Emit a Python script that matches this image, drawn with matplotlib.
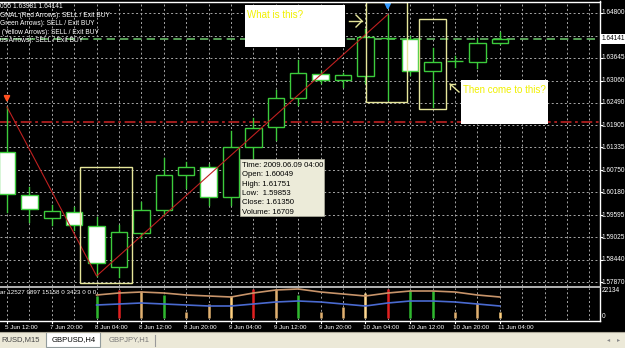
import matplotlib
matplotlib.use('Agg')
import matplotlib.pyplot as plt
from matplotlib.patches import Rectangle

# ---------------- data ----------------
bar_index = list(range(23))
opens  = [1.61219, 1.60111, 1.59519, 1.59673, 1.59313, 1.58256, 1.59132, 1.59725, 1.60626, 1.60832,
          1.60049, 1.61350, 1.61863, 1.62610, 1.63228, 1.63074, 1.63177, 1.64150, 1.64130, 1.63305,
          1.63563, 1.63537, 1.64027]
highs  = [1.62380, 1.60317, 1.59854, 1.59802, 1.59544, 1.59338, 1.59931, 1.61064, 1.60961, 1.60900,
          1.61751, 1.62095, 1.62816, 1.63589, 1.63300, 1.63250, 1.64400, 1.64760, 1.64200, 1.63900,
          1.63700, 1.64150, 1.64310]
lows   = [1.59673, 1.59416, 1.59338, 1.59210, 1.58025, 1.57999, 1.59003, 1.59596, 1.60291, 1.59854,
          1.59853, 1.61013, 1.61528, 1.62430, 1.63000, 1.62893, 1.63000, 1.62558, 1.63200, 1.62378,
          1.63400, 1.63383, 1.64000]
closes = [1.60137, 1.59750, 1.59699, 1.59338, 1.58359, 1.59158, 1.59725, 1.60626, 1.60832, 1.60049,
          1.61350, 1.61837, 1.62610, 1.63254, 1.63074, 1.63202, 1.64181, 1.64160, 1.63305, 1.63537,
          1.63570, 1.64027, 1.64141]

tick_bars = [0, 2, 4, 6, 8, 10, 12, 14, 16, 18, 20, 22]
tick_labels = ["5 Jun 12:00", "7 Jun 20:00", "8 Jun 04:00", "8 Jun 12:00", "8 Jun 20:00",
               "9 Jun 04:00", "9 Jun 12:00", "9 Jun 20:00", "10 Jun 04:00", "10 Jun 12:00",
               "10 Jun 20:00", "11 Jun 04:00"]
price_ticks = [1.57870, 1.58440, 1.59025, 1.59595, 1.60180, 1.60750, 1.61335, 1.61905,
               1.62490, 1.63060, 1.63645, 1.64215, 1.64800]
price_tick_labels = ["1.57870", "1.58440", "1.59025", "1.59595", "1.60180", "1.60750", "1.61335",
                     "1.61905", "1.62490", "1.63060", "1.63645", "", "1.64800"]
bid_price = 1.64141
red_level = 1.61990

zigzag_bars = [0, 4, 17]
zigzag_prices = [1.62380, 1.58025, 1.64760]

vol_bars = list(range(4, 23))
volumes = [16800, 21500, 20600, 17500, 4600, 10700, 16709, 22134, 21800, 17500,
           4600, 8400, 19000, 22000, 21300, 20600, 4600, 11400, 4600]
vol_colors = ['#2fb82f', '#e02020', '#e0b070', '#2fb82f', '#e0b070', '#e0b070', '#ffd080', '#e02020',
              '#e0b070', '#2fb82f', '#e0b070', '#e0b070', '#ffd890', '#e02020', '#2fb82f', '#2fb82f',
              '#e0b070', '#e0b070', '#ffd080']
vol_line_tan = [17550, 19075, 19840, 19075, 17550, 16790, 16020, 19075, 21360, 22130,
                19840, 18310, 16790, 19075, 20600, 20600, 19840, 17550, 16020]
vol_line_blue = [9920, 10680, 11450, 10680, 9920, 9160, 9160, 10680, 12210, 12970,
                 12210, 10680, 9160, 11450, 12970, 12970, 12210, 10680, 9160]
vol_max = 22134

header_lines = ["055 1.63981 1.64141",
                "GNAL (Red Arrows): SELL / Exit BUY",
                "Green Arrows): SELL / Exit BUY",
                " (Yellow Arrows): SELL / Exit BUY",
                "us Arrows): SELL / Exit BUY"]
tooltip_lines = ["Time: 2009.06.09 04:00", "Open: 1.60049", "High: 1.61751",
                 "Low:  1.59853", "Close: 1.61350", "Volume: 16709"]
vol_label = "ar 12527 9897 15158 0 3423 0 0 0"
tabs = ["RUSD,M15", "GBPUSD,H4", "GBPJPY,H1"]

# ---------------- layout ----------------
W, H = 625, 348
fig = plt.figure(figsize=(W / 100, H / 100), dpi=100)
fig.patch.set_facecolor('black')
plt.rcParams['font.family'] = ['Liberation Sans', 'DejaVu Sans']

def fx(x):
    return x / W

def fy(y):
    return 1 - y / H

def add_ax(x0, y0, x1, y1):
    ax = fig.add_axes([fx(x0), fy(y1), fx(x1) - fx(x0), fy(y0) - fy(y1)])
    ax.set_facecolor('black')
    for s in ax.spines.values():
        s.set_visible(False)
    ax.set_xticks([])
    ax.set_yticks([])
    return ax

bar_px = 22.4
x_lo = -7 / bar_px
x_hi = (599 - 7) / bar_px

ax = add_ax(0, 2, 599, 286)
ax.set_xlim(x_lo, x_hi)
ppp = 0.0002576  # price per pixel (scale of MT4 chart)
ax.set_ylim(1.57870 - 4 * ppp, 1.57870 + 280 * ppp)

grid_kw = dict(color='#a8a8a8', lw=0.7, linestyle=(0, (2, 2.5)), zorder=1)
for p in price_ticks:
    ax.axhline(p, **grid_kw)
for i in range(-1, 27):
    ax.axvline(i, **grid_kw)

ax.axhline(red_level, color='#b02020', lw=1.3, linestyle=(0, (6, 2, 1.5, 2)), zorder=2)
ax.axhline(bid_price, color='#66bb66', lw=1.2, linestyle=(0, (5, 3)), zorder=2)

green = '#3ccc3c'
bw = 0.74
for i, o, h, l, c in zip(bar_index, opens, highs, lows, closes):
    ax.plot([i, i], [l, h], color=green, lw=1.0, zorder=3)
    bottom = min(o, c)
    height = abs(c - o)
    fc = 'black' if c >= o else 'white'
    ax.add_patch(Rectangle((i - bw / 2, bottom), bw, height, facecolor=fc,
                           edgecolor=green, lw=1.0, zorder=4))

ax.plot(zigzag_bars, zigzag_prices, color='#c02020', lw=0.8, zorder=5)

# signal arrows
def sig_arrow(i, price, color):
    tip = price + 1.5 * ppp
    tail = price + 12 * ppp
    ax.annotate('', xy=(i, tip), xytext=(i, tail),
                arrowprops=dict(arrowstyle='-|>', color=color, lw=1.5, mutation_scale=8), zorder=6)

sig_arrow(0, highs[0], '#ff5020')
sig_arrow(17, highs[17], '#3399ff')

# yellow rectangles (chart objects)
ycol = '#e6e69a'
for (i0, i1, p0, p1) in [(3.26, 5.58, 1.57844, 1.60832),
                         (16.03, 17.86, 1.62507, 1.65075),
                         (18.39, 19.60, 1.62327, 1.64645)]:
    ax.add_patch(Rectangle((i0, p0), i1 - i0, p1 - p0, fill=False, edgecolor=ycol, lw=1.0, zorder=7))

# ---------------- volume pane ----------------
av = add_ax(0, 288, 599, 320)
av.set_xlim(x_lo, x_hi)
av.set_ylim(-2 * 763, 30 * 763)
for i in range(-1, 27):
    av.axvline(i, **grid_kw)
av.vlines(vol_bars, 0, volumes, colors=vol_colors, lw=1.8, zorder=3)
av.plot(vol_bars, vol_line_tan, color='#c8946a', lw=1.2, zorder=4)
av.plot(vol_bars, vol_line_blue, color='#4a6ad0', lw=1.2, zorder=4)

# ---------------- overlay (pixel coordinates) ----------------
ov = fig.add_axes([0, 0, 1, 1])
ov.set_xlim(0, W)
ov.set_ylim(H, 0)
ov.axis('off')
ov.patch.set_alpha(0)

# borders
ov.plot([0, 600], [1.5, 1.5], color='white', lw=1.0)
ov.plot([599.5, 599.5], [1, 321], color='white', lw=1.0)
ov.plot([0, 600], [286.5, 286.5], color='#d0d0d0', lw=1.2)
ov.plot([0, 600], [320.5, 320.5], color='white', lw=1.0)

lab_kw = dict(color='white', fontsize=4.7, va='center', ha='left')

# price labels
for p, lab in zip(price_ticks, price_tick_labels):
    ypx = 282 - (p - 1.57870) / ppp
    if lab:
        ov.plot([599.5, 601.5], [ypx, ypx], color='white', lw=0.8)
        ov.text(601.5, ypx, lab, **lab_kw)
ybid = 282 - (bid_price - 1.57870) / ppp
ov.add_patch(Rectangle((600.5, ybid - 5), 24, 10, facecolor='white', edgecolor='none'))
ov.text(601.5, ybid, f"{bid_price:.5f}", **{**lab_kw, 'color': 'black'})

ov.text(601.5, 290.5, str(vol_max), **lab_kw)
ov.text(602, 316, "0", **lab_kw)
ov.text(0, 292.5, vol_label, **{**lab_kw, 'fontsize': 4.5})

# x labels
for b, lab in zip(tick_bars, tick_labels):
    xpx = 7 + bar_px * b
    ov.plot([xpx, xpx], [320.5, 323], color='white', lw=0.8)
    ov.text(xpx - 2, 327.5, lab, **{**lab_kw, 'fontsize': 4.5})

# header text
for k, line in enumerate(header_lines):
    ov.text(0, 6.5 + 8.6 * k, line, **{**lab_kw, 'fontsize': 4.8})

# tooltip
ov.add_patch(Rectangle((240, 159), 84, 57, facecolor='#ecebd9', edgecolor='#b0b0a0', lw=0.5, zorder=10))
for k, line in enumerate(tooltip_lines):
    ov.text(242, 165.5 + 9.3 * k, line, color='black', fontsize=5.6, va='center', ha='left', zorder=11)

# annotation boxes
ov.add_patch(Rectangle((245, 5), 100, 42, facecolor='white', edgecolor='none', zorder=10))
ov.text(247, 15.5, "What is this?", color='#f0f000', fontsize=7, va='center', ha='left', zorder=11)
ov.plot([349, 362], [21, 21], color=ycol, lw=1.0, zorder=11)
ov.plot([356, 362, 356], [15, 21, 27], color=ycol, lw=1.0, zorder=11)

ov.add_patch(Rectangle((461, 80), 87, 44, facecolor='white', edgecolor='none', zorder=10))
ov.text(463, 90, "Then come to this?", color='#f0f000', fontsize=7, va='center', ha='left', zorder=11)
ov.plot([450, 459], [84, 92], color=ycol, lw=1.0, zorder=11)
ov.plot([450, 450, 455], [89, 84, 84], color=ycol, lw=1.0, zorder=11)

# tab bar
ov.add_patch(Rectangle((0, 332), W, 16, facecolor='#ece9d8', edgecolor='none'))
ov.plot([0, W], [332, 332], color='#aca899', lw=0.8)
ov.add_patch(Rectangle((46, 331.5), 54, 15, facecolor='white', edgecolor='#919b9c', lw=0.8))
ov.text(1, 340, tabs[0], color='#444444', fontsize=5.5, va='center', ha='left')
ov.text(52, 340, tabs[1], color='black', fontsize=5.5, va='center', ha='left')
ov.text(109, 340, tabs[2], color='#777777', fontsize=5.5, va='center', ha='left')
ov.plot([155, 155], [335, 346], color='#999999', lw=0.8)
ov.text(609, 340, "\u25c2", color='#888888', fontsize=4.5, va='center', ha='center')
ov.text(619, 340, "\u25b8", color='#888888', fontsize=4.5, va='center', ha='center')

fig.savefig('out.png', dpi=100, facecolor='black')
